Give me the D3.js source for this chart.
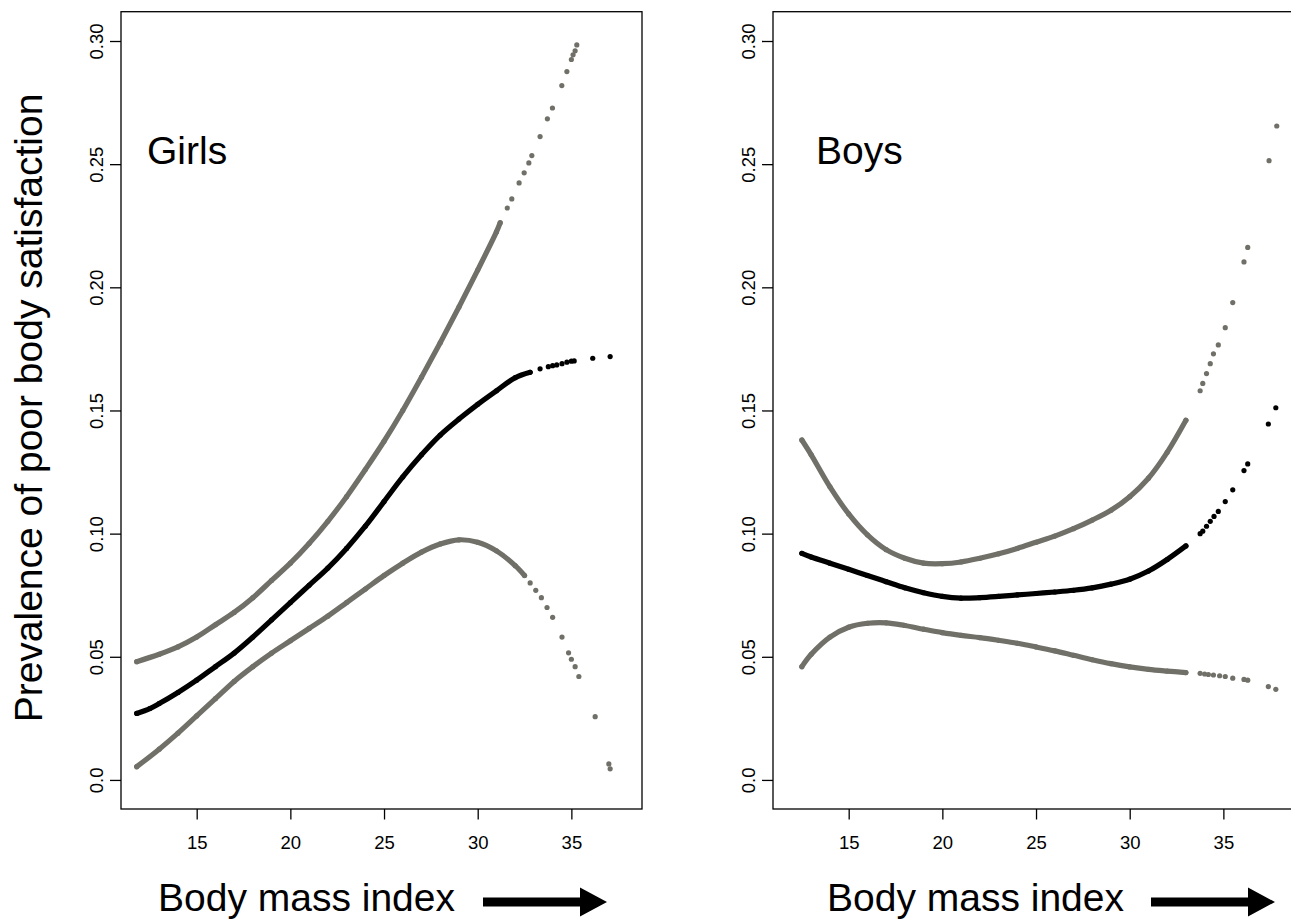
<!DOCTYPE html>
<meta charset="utf-8">
<head>
	<title>Poor body satisfaction by BMI</title>
</head>

<style>
body {
	margin: 0;
	background: #fff;
}
svg {
	display: block;
	background: #fff;
	font-family: "Liberation Sans", Arial, sans-serif;
}
.box {
	fill: none;
	stroke: #000;
	stroke-width: 1.3;
}
.tick line {
	stroke: #000;
	stroke-width: 1.3;
}
.tick text {
	font-size: 18.5px;
	fill: #000;
}
</style>

<body>
<svg id="chart" width="1291" height="919"></svg>

<script src="https://cdnjs.cloudflare.com/ajax/libs/d3/7.8.5/d3.min.js"></script>
<script>

// tick labels
var xTicks = [15, 20, 25, 30, 35];
var yTicks = [0, 0.05, 0.10, 0.15, 0.20, 0.25, 0.30];

// girls: [bmi, prevalence], dense part of each curve then the scattered tail
var girlsEst = [[11.8,0.027],[12.5,0.029],[13,0.031],[14,0.0355],[15,0.0405],[16,0.046],[17,0.0515],[18,0.058],[19,0.065],[20,0.072],[21,0.079],[22,0.086],[23,0.094],[24,0.103],[25,0.113],[26,0.123],[27,0.132],[28,0.140],[29,0.1465],[30,0.1525],[31,0.158],[32,0.1633],[32.8,0.1655]];
var girlsEstTail = [[33.33,0.1669],[33.77,0.1678],[34.0,0.1682],[34.22,0.1685],[34.5,0.169],[34.76,0.1696],[35.0,0.170],[35.15,0.1701],[36.14,0.1712],[37.07,0.1719]];
var girlsHigh = [[11.8,0.048],[13,0.051],[14,0.054],[15,0.058],[16,0.063],[17,0.068],[18,0.074],[19,0.081],[20,0.088],[21,0.096],[22,0.105],[23,0.115],[24,0.126],[25,0.1375],[26,0.150],[27,0.1635],[28,0.1775],[29,0.192],[30,0.207],[31,0.2225],[31.2,0.2262]];
var girlsHighTail = [[31.58,0.2322],[31.82,0.2359],[32.21,0.2424],[32.48,0.2465],[32.73,0.2505],[32.89,0.2535],[33.33,0.2612],[33.72,0.2684],[33.99,0.2728],[34.49,0.2819],[34.76,0.2876],[35.0,0.2925],[35.09,0.2944],[35.2,0.296],[35.29,0.2984]];
var girlsLow = [[11.8,0.0054],[13,0.0125],[14,0.019],[15,0.026],[16,0.033],[17,0.040],[18,0.046],[19,0.0515],[20,0.0565],[21,0.0615],[22,0.0665],[23,0.072],[24,0.0775],[25,0.083],[26,0.088],[27,0.0925],[28,0.0958],[29,0.0975],[30,0.0965],[31,0.093],[32,0.087],[32.5,0.083]];
var girlsLowTail = [[32.8,0.080],[33.1,0.077],[33.4,0.074],[33.7,0.070],[34.0,0.066],[34.5,0.058],[34.85,0.0516],[35.0,0.049],[35.2,0.046],[35.4,0.042],[36.27,0.0257],[37.0,0.0065],[37.07,0.0045]];

// boys
var boysEst = [[12.5,0.092],[13,0.0905],[14,0.088],[15,0.0855],[16,0.083],[17,0.0805],[18,0.078],[19,0.076],[20,0.0745],[21,0.0738],[22,0.074],[23,0.0745],[24,0.0751],[25,0.0757],[26,0.0763],[27,0.077],[28,0.078],[29,0.0795],[30,0.0815],[31,0.0848],[32,0.0895],[33,0.095]];
var boysEstTail = [[33.76,0.100],[33.9,0.101],[34.1,0.103],[34.3,0.105],[34.5,0.107],[34.73,0.109],[35.1,0.113],[35.5,0.1178],[36.1,0.1256],[36.3,0.1283],[37.4,0.1445],[37.8,0.1511]];
var boysHigh = [[12.5,0.138],[13,0.132],[14,0.119],[15,0.108],[16,0.0995],[17,0.0935],[18,0.090],[19,0.088],[20,0.0878],[21,0.0885],[22,0.090],[23,0.0918],[24,0.094],[25,0.0965],[26,0.099],[27,0.102],[28,0.1055],[29,0.1095],[30,0.115],[31,0.1225],[32,0.133],[33,0.146]];
var boysHighTail = [[33.76,0.158],[33.9,0.161],[34.1,0.165],[34.3,0.169],[34.47,0.173],[34.73,0.1766],[35.1,0.1836],[35.5,0.1938],[36.1,0.2103],[36.3,0.2162],[37.44,0.2514],[37.85,0.2655]];
var boysLow = [[12.5,0.046],[13,0.051],[14,0.058],[15,0.062],[16,0.0636],[17,0.0638],[18,0.0627],[19,0.0612],[20,0.0598],[21,0.0587],[22,0.0578],[23,0.0567],[24,0.0555],[25,0.054],[26,0.0524],[27,0.0506],[28,0.0488],[29,0.0472],[30,0.0459],[31,0.0449],[32,0.0442],[33,0.0436]];
var boysLowTail = [[33.76,0.0433],[34.0,0.043],[34.2,0.0428],[34.47,0.0426],[34.8,0.0423],[35.1,0.042],[35.5,0.0413],[36.1,0.0408],[36.3,0.0405],[37.4,0.0379],[37.8,0.0368]];

var panelNames = ['Girls', 'Boys'];

var W = 521, H = 797.3;
var grey = '#707068';

var x = d3.scaleLinear().domain([10.96, 38.77]).range([0, W]);
var y = d3.scaleLinear().domain([-0.0118, 0.3119]).range([H, 0]);

var line = d3.line()
	.x(function(d) { return x(d[0]); })
	.y(function(d) { return y(d[1]); })
	.curve(d3.curveCatmullRom.alpha(0.5));

var svg = d3.select('#chart');

function drawPanel(left, name, labelBmi, series, xlab) {
	var g = svg.append('g').attr('transform', 'translate(' + left + ',11.7)');

	g.append('rect').attr('class', 'box')
		.attr('width', W).attr('height', H);

	g.append('g')
		.attr('transform', 'translate(0,' + H + ')')
		.call(d3.axisBottom(x).tickValues(xTicks).tickSize(10.5).tickSizeOuter(0).tickPadding(16.5))
		.call(function(a) { a.select('.domain').remove(); })
		.selectAll('text').style('font-family', 'inherit');

	var ya = g.append('g')
		.call(d3.axisLeft(y).tickValues(yTicks).tickSize(11).tickSizeOuter(0)
			.tickFormat(function(d) { return d === 0 ? '0.0' : d.toFixed(2); }));
	ya.select('.domain').remove();
	ya.selectAll('text')
		.attr('x', null).attr('dy', null)
		.attr('text-anchor', 'middle')
		.attr('transform', 'translate(-18,0) rotate(-90)');

	// dense part drawn as a thick chain, tail as single dots
	series.forEach(function(s) {
		g.append('path')
			.datum(s.dense)
			.attr('d', line)
			.attr('fill', 'none')
			.attr('stroke', s.color)
			.attr('stroke-width', 5.2)
			.attr('stroke-linecap', 'round');
		g.selectAll(null)
			.data(s.dense.concat(s.tail))
			.enter()
			.append('circle')
			.attr('cx', function(d) { return x(d[0]); })
			.attr('cy', function(d) { return y(d[1]); })
			.attr('r', 2.6)
			.attr('fill', s.color);
	});

	g.append('text')
		.attr('x', x(labelBmi))
		.attr('y', y(0.25))
		.style('font-size', '39px')
		.text(name);

	// x label with arrow
	var lab = g.append('g').attr('transform', 'translate(' + xlab.text + ',' + (911 - 11.7) + ')');
	lab.append('text')
		.style('font-size', '39px')
		.text('Body mass index');
	var a0 = xlab.arrow - xlab.text, a1 = a0 + 124, ay = -9;
	lab.append('path')
		.attr('d', 'M' + a0 + ',' + (ay - 4.5) + 'H' + (a1 - 27) + 'V' + (ay - 14.5) +
			'L' + a1 + ',' + ay + 'L' + (a1 - 27) + ',' + (ay + 14.5) + 'V' + (ay + 4.5) + 'H' + a0 + 'Z')
		.attr('fill', '#000');
}

drawPanel(121, panelNames[0], 12.35, [
	{dense: girlsHigh, tail: girlsHighTail, color: grey},
	{dense: girlsLow, tail: girlsLowTail, color: grey},
	{dense: girlsEst, tail: girlsEstTail, color: '#000'}
], {text: 37, arrow: 362});

drawPanel(773, panelNames[1], 13.26, [
	{dense: boysHigh, tail: boysHighTail, color: grey},
	{dense: boysLow, tail: boysLowTail, color: grey},
	{dense: boysEst, tail: boysEstTail, color: '#000'}
], {text: 54, arrow: 378});

// y title, left panel only
svg.append('text')
	.attr('transform', 'translate(42,408) rotate(-90)')
	.attr('text-anchor', 'middle')
	.style('font-size', '39px')
	.text('Prevalence of poor body satisfaction');

</script>

</body>
</html>
